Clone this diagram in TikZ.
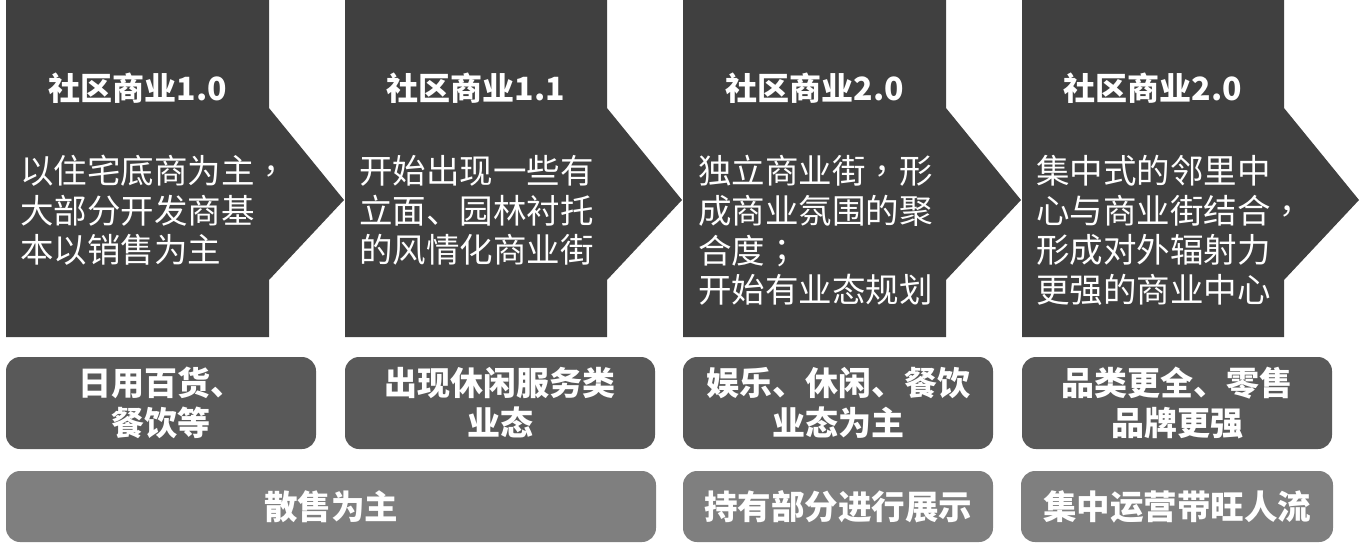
\documentclass[tikz,border=0pt]{standalone}
\usepackage{fontspec}
\newfontfamily\cjk{Noto Sans CJK SC}
\newfontfamily\cjktc{Noto Sans CJK TC}
\newcommand{\cpunct}[1]{{\cjktc #1}}
\definecolor{arrowgray}{HTML}{404040}
\definecolor{midgray}{HTML}{595959}
\definecolor{lightgray2}{HTML}{7F7F7F}
\tikzset{
  arrowshape/.style={fill=arrowgray},
  titletext/.style={text=white, font={\cjk\bfseries\fontsize{32}{38}\selectfont}, inner sep=0pt},
  bodytext/.style={text=white, align=left, anchor=west, inner sep=0pt, font={\cjk\fontsize{33.5}{39.6}\selectfont}},
  tagbox/.style={fill=midgray, rounded corners=14pt, minimum width=310pt, minimum height=92pt, inner sep=0pt, text=white, align=center, font={\cjk\bfseries\fontsize{33}{40}\selectfont}},
  modebox/.style={fill=lightgray2, rounded corners=14pt, minimum height=71pt, inner sep=0pt, text=white, align=center, font={\cjk\bfseries\fontsize{33.5}{40}\selectfont}}
}
\begin{document}
\begin{tikzpicture}[x=1pt,y=-1pt]
\useasboundingbox (0,0) rectangle (1360,547);
% arrows
\fill[arrowshape] (6,0) -- (269,0) -- (269,108) -- (344,200) -- (269,280) -- (269,337) -- (6,337) -- cycle;
\fill[arrowshape] (345,0) -- (607,0) -- (607,108) -- (682,200) -- (607,280) -- (607,337) -- (345,337) -- cycle;
\fill[arrowshape] (683,0) -- (946,0) -- (946,108) -- (1021,200) -- (946,280) -- (946,337) -- (683,337) -- cycle;
\fill[arrowshape] (1022,0) -- (1284,0) -- (1284,108) -- (1359,200) -- (1284,280) -- (1284,337) -- (1022,337) -- cycle;
% titles
\node[titletext] (t1) at (138,88) {社区商业1.0};
\node[titletext] (t2) at (476,88) {社区商业1.1};
\node[titletext] (t3) at (815,88) {社区商业2.0};
\node[titletext] (t4) at (1153,88) {社区商业2.0};
% body texts
\node[bodytext] (b1) at (20,210.5) {以住宅底商为主\cpunct{，}\\大部分开发商基\\本以销售为主};
\node[bodytext] (b2) at (359,210.5) {开始出现一些有\\立面、园林衬托\\的风情化商业街};
\node[bodytext] (b3) at (698,230.5) {独立商业街\cpunct{，}形\\成商业氛围的聚\\合度\cpunct{；}\\开始有业态规划};
\node[bodytext] (b4) at (1036,230.5) {集中式的邻里中\\心与商业街结合\cpunct{，}\\形成对外辐射力\\更强的商业中心};
% row 1
\node[tagbox] (r1) at (161,403) {日用百货、\\餐饮等};
\node[tagbox] (r2) at (500,403) {出现休闲服务类\\业态};
\node[tagbox] (r3) at (838,403) {娱乐、休闲、餐饮\\业态为主};
\node[tagbox] (r4) at (1177,403) {品类更全、零售\\品牌更强};
% row 2
\node[modebox, minimum width=650pt] (m1) at (331,506.5) {散售为主};
\node[modebox, minimum width=310pt] (m2) at (838,506.5) {持有部分进行展示};
\node[modebox, minimum width=312pt] (m3) at (1177,506.5) {集中运营带旺人流};
\end{tikzpicture}
\end{document}
